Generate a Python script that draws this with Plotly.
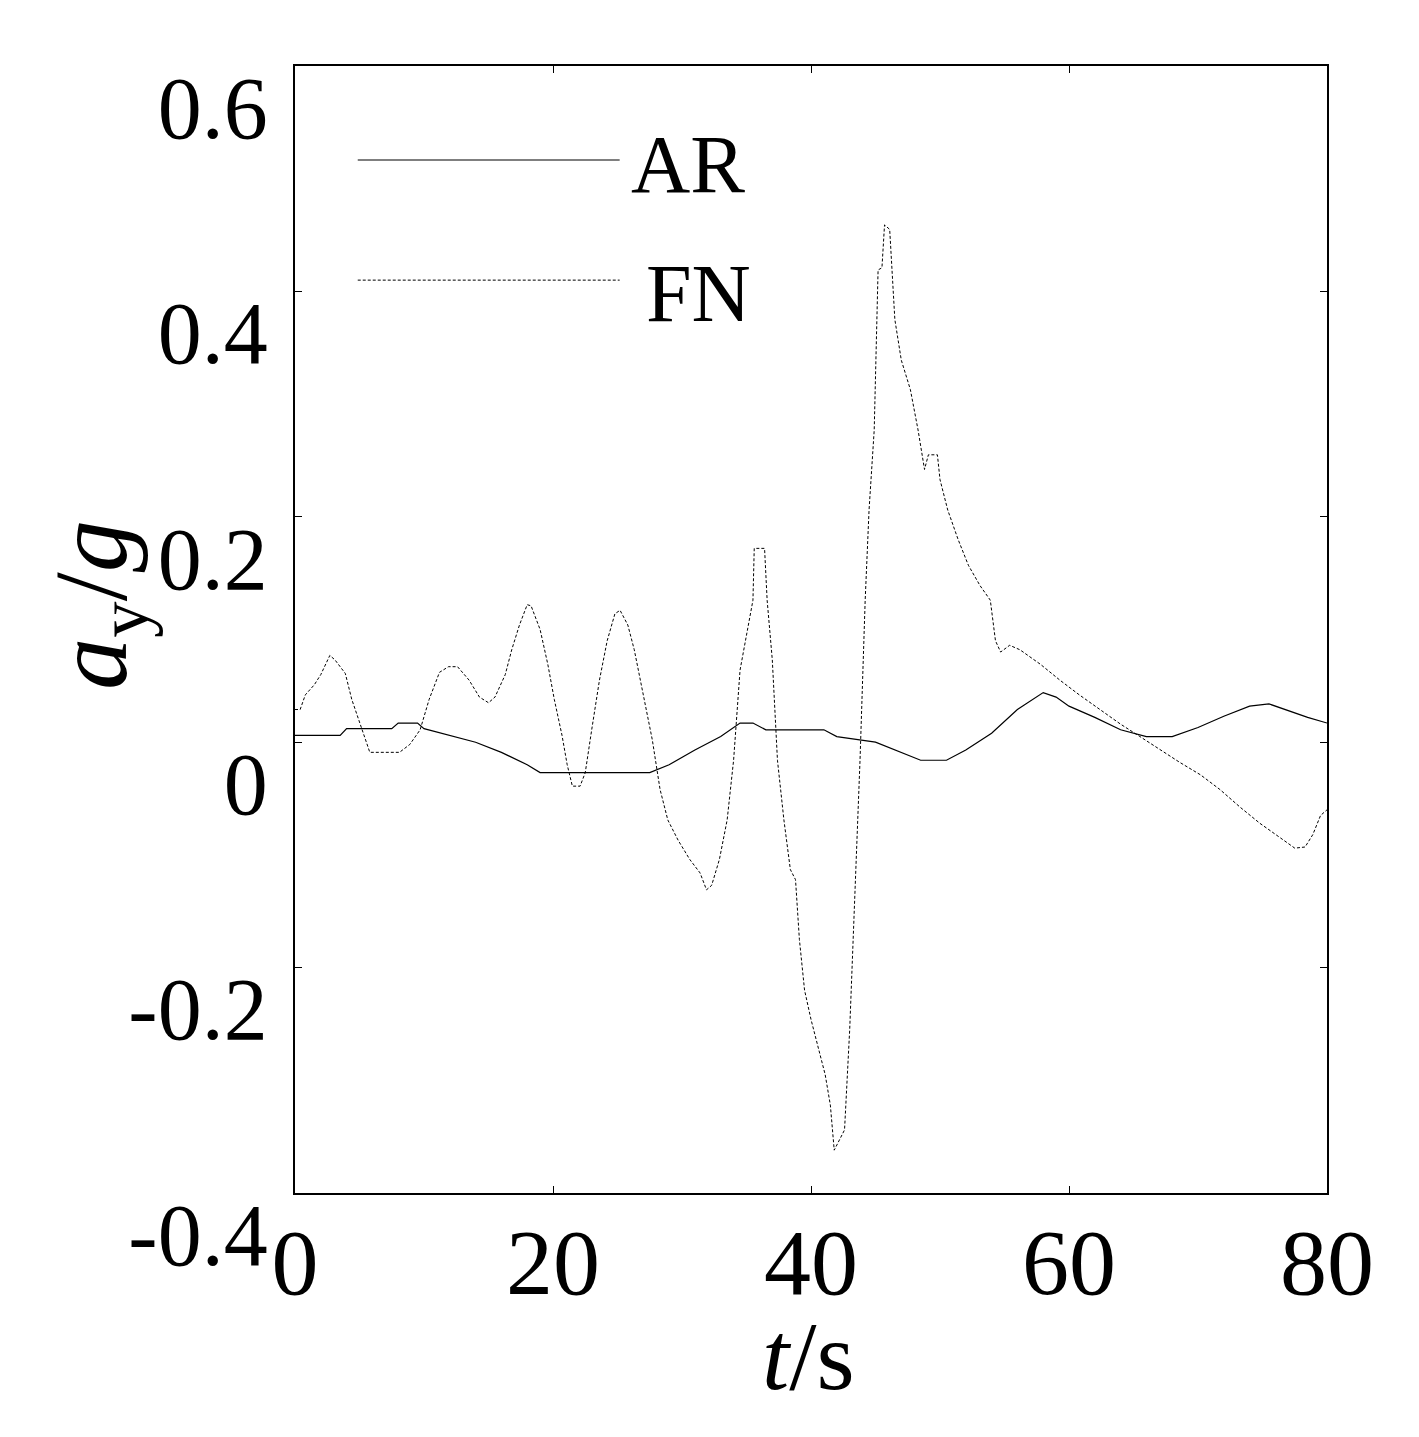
import plotly.graph_objects as go

# ---- data ----
ar_t = [0, 3.5, 4, 7.5, 8, 9.5, 10, 12, 14, 16, 18, 19, 27.5, 29, 31, 33, 34.5, 35.5,
        36.5, 41, 42, 45, 47, 48.5, 50.5, 52, 54, 56, 58, 59, 60, 62, 64, 66, 68, 70,
        72, 74, 75.5, 77, 78.5, 80]
ar_v = [0.006, 0.006, 0.012, 0.012, 0.017, 0.017, 0.012, 0.006, 0.0, -0.009, -0.020,
        -0.027, -0.027, -0.020, -0.007, 0.005, 0.017, 0.017, 0.011, 0.011, 0.005, 0.0,
        -0.009, -0.016, -0.016, -0.007, 0.008, 0.029, 0.044, 0.040, 0.032, 0.022,
        0.011, 0.005, 0.005, 0.013, 0.023, 0.032, 0.034, 0.028, 0.022, 0.017]

fn_t = [0, 0.4, 0.8, 1.5, 2.0, 2.7, 3.1, 3.9, 4.4, 5.0, 5.8, 8.1, 8.9, 9.7, 10.4, 11.2,
        11.9, 12.6, 13.5, 14.3, 15.0, 15.5, 16.3, 16.8, 17.4, 18.0, 18.3, 19.0, 19.6,
        20.1, 20.7, 21.1, 21.5, 22.1, 22.5, 23.0, 23.6, 24.2, 24.8, 25.2, 25.8, 26.3,
        27.1, 27.7, 28.3, 28.9, 29.7, 30.6, 31.4, 31.9, 32.3, 32.9, 33.5, 34.0, 34.5,
        35.1, 35.5, 35.6, 36.4, 36.6, 37.0, 37.4, 37.9, 38.4, 38.8, 39.1, 39.5, 40.0,
        40.5, 41.1, 41.5, 41.8, 42.2, 42.6, 43.0, 43.4, 43.8, 44.2, 44.5, 44.9, 45.2,
        45.5, 45.7, 46.1, 46.5, 47.0, 47.7, 48.3, 48.8, 49.1, 49.8, 50.0, 50.6, 51.4,
        52.2, 53.1, 53.9, 54.3, 54.7, 55.4, 56.2, 57.8, 59.3, 60.8, 62.4, 64.0, 65.5,
        67.1, 68.6, 70.2, 71.7, 73.3, 74.8, 76.4, 77.5, 78.3, 78.9, 79.5, 80.0]
fn_v = [0.029, 0.029, 0.042, 0.051, 0.060, 0.077, 0.073, 0.061, 0.038, 0.018, -0.009,
        -0.009, -0.002, 0.011, 0.038, 0.062, 0.067, 0.067, 0.055, 0.040, 0.035, 0.040,
        0.060, 0.082, 0.104, 0.122, 0.121, 0.100, 0.069, 0.038, 0.006, -0.020, -0.039,
        -0.039, -0.027, 0.011, 0.055, 0.090, 0.114, 0.117, 0.104, 0.082, 0.038, 0.002,
        -0.042, -0.069, -0.087, -0.104, -0.116, -0.131, -0.127, -0.104, -0.069, -0.016,
        0.064, 0.100, 0.126, 0.172, 0.172, 0.126, 0.073, -0.016, -0.069, -0.113, -0.122,
        -0.175, -0.220, -0.246, -0.268, -0.295, -0.322, -0.362, -0.353, -0.344, -0.255,
        -0.140, -0.016, 0.126, 0.206, 0.277, 0.419, 0.421, 0.459, 0.455, 0.375, 0.339,
        0.313, 0.277, 0.242, 0.255, 0.255, 0.233, 0.206, 0.180, 0.157, 0.139, 0.126,
        0.090, 0.080, 0.086, 0.082, 0.069, 0.055, 0.042, 0.029, 0.016, 0.005, -0.007,
        -0.018, -0.029, -0.042, -0.058, -0.072, -0.085, -0.094, -0.093, -0.082, -0.065,
        -0.060]

x_ticks = [0, 20, 40, 60, 80]
x_tick_text = ["0", "20", "40", "60", "80"]
y_ticks = [-0.4, -0.2, 0, 0.2, 0.4, 0.6]
y_tick_text = ["-0.4", "-0.2", "0", "0.2", "0.4", "0.6"]
series_names = ["AR", "FN"]

FONT = "Liberation Serif"

fig = go.Figure()
fig.add_trace(go.Scatter(x=ar_t, y=ar_v, mode="lines", name=series_names[0],
                         line=dict(color="black", width=1.2), showlegend=False))
fig.add_trace(go.Scatter(x=fn_t, y=fn_v, mode="lines", name=series_names[1],
                         line=dict(color="black", width=1, dash="3px,2px"),
                         showlegend=False))

# legend drawn as sample lines + labels
leg_y = [0.9166, 0.810]
leg_dash = ["solid", "3px,2px"]
leg_tx = [0.381, 0.391]
leg_ty = [0.913, 0.798]
for i, nm in enumerate(series_names):
    fig.add_shape(type="line", xref="paper", yref="paper", x0=0.0608, x1=0.3146,
                  y0=leg_y[i], y1=leg_y[i],
                  line=dict(color="black", width=1.2 if i == 0 else 1, dash=leg_dash[i]))
    fig.add_annotation(xref="paper", yref="paper", x=leg_tx[i], y=leg_ty[i],
                       text=nm, showarrow=False, xanchor="center", yanchor="middle",
                       font=dict(family=FONT, size=82, color="black"))

# axis titles
fig.add_annotation(xref="paper", yref="paper", x=-0.19, y=0.522, textangle=-90,
                   text="<i>a</i><sub>y</sub>/<i>g</i>", showarrow=False,
                   xanchor="center", yanchor="middle",
                   font=dict(family=FONT, size=104, color="black"))
fig.add_annotation(xref="paper", yref="paper", x=0.498, y=-0.145,
                   text="<i>t</i>/s", showarrow=False,
                   xanchor="center", yanchor="middle",
                   font=dict(family=FONT, size=98, color="black"))

axis_common = dict(showline=True, linecolor="black", linewidth=1.5, mirror="ticks",
                   ticks="inside", ticklen=7, tickwidth=1.2, tickcolor="black",
                   showgrid=False, zeroline=False, ticklabeloverflow="allow")

fig.update_xaxes(range=[0, 80], tickmode="array", tickvals=x_ticks, ticktext=x_tick_text,
                 tickfont=dict(family=FONT, size=94, color="black"),
                 ticklabelstandoff=-14, **axis_common)
fig.update_yaxes(range=[-0.4, 0.6], tickmode="array", tickvals=y_ticks, ticktext=y_tick_text,
                 tickfont=dict(family=FONT, size=88, color="black"),
                 ticklabelshift=41, ticklabelstandoff=8, **axis_common)

fig.update_layout(width=1419, height=1437, paper_bgcolor="white", plot_bgcolor="white",
                  margin=dict(l=287, r=100, t=58, b=252), showlegend=False)

fig.write_html("out.html")
